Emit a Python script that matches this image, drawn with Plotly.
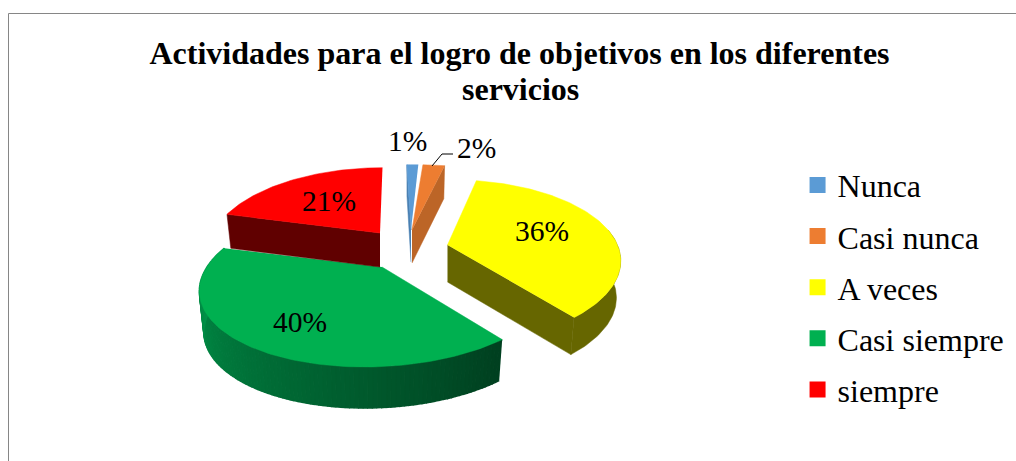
import numpy as np
import plotly.graph_objects as go

categories = ["Nunca", "Casi nunca", "A veces", "Casi siempre", "siempre"]
values = [1, 2, 36, 40, 21]
top_colors = ["#5B9BD5", "#ED7D31", "#FFFF00", "#00B050", "#FF0000"]
side_colors = ["#4A80B2", "#BC6527", "#666600", "#00401F", "#600000"]
title_line1 = "Actividades para el logro de objetivos en los diferentes"
title_line2 = "servicios"

W, H = 1016, 461
FONT = "Liberation Serif"
RY, K = 79.0, 0.21   # vertical radius and perspective strength
TAPER = 0.975        # lower rim is slightly narrower than the upper rim

# Per-slice exploded geometry of the tilted pie (layout, not data)
geom = {
    "Nunca":        dict(cx=411, cy=230, rx=220, q=-5, d=32, faces=("start",)),
    "Casi nunca":   dict(cx=412, cy=230, rx=210, q=0,  d=33, faces=("end",)),
    "A veces":      dict(cx=447.5, cy=245, rx=170, q=3, d=37, faces=("arc", "end")),
    "Casi siempre": dict(cx=382, cy=267, rx=175, q=14, d=41, faces=("gradient",)),
    "siempre":      dict(cx=380, cy=233, rx=167, q=3,  d=34, faces=("start",)),
}
label_pos = {"Nunca": (407, 141), "Casi nunca": (476, 148), "A veces": (542, 231),
             "Casi siempre": (300, 322), "siempre": (329, 201)}


def project(theta, g):
    u, v = np.sin(theta), np.cos(theta)
    s = 1.0 / (1.0 + K * v)
    return g["cx"] + s * (g["rx"] * u + g["q"] * v), g["cy"] - s * RY * v


def poly(fig, xs, ys, color, lw=0.5):
    fig.add_trace(go.Scatter(x=list(xs), y=list(ys), mode="lines", fill="toself",
                             fillcolor=color, line=dict(color=color, width=lw),
                             showlegend=False, hoverinfo="skip"))


fig = go.Figure()
shares = np.array(values, dtype=float) / sum(values)
edges = np.concatenate([[0], np.cumsum(shares)]) * 2 * np.pi

for i, name in enumerate(categories):
    g = geom[name]
    th = np.linspace(edges[i], edges[i + 1], max(4, int(values[i] * 3)))
    ax, ay = project(th, g)
    d = g["d"]
    bx = g["cx"] + (ax - g["cx"]) * TAPER  # lower rim
    for face in g["faces"]:
        if face == "arc":
            m = np.cos(th) < 0.2
            poly(fig, np.r_[ax[m], bx[m][::-1]], np.r_[ay[m], ay[m][::-1] + d], side_colors[i])
        elif face == "start":
            poly(fig, [g["cx"], ax[0], bx[0], g["cx"]],
                 [g["cy"], ay[0], ay[0] + d, g["cy"] + d], side_colors[i])
        elif face == "end":
            poly(fig, [g["cx"], ax[-1], bx[-1], g["cx"]],
                 [g["cy"], ay[-1], ay[-1] + d, g["cy"] + d], side_colors[i])
        elif face == "gradient":
            # shaded front wall, light on the left to dark on the right
            for j in range(len(ax) - 1):
                t = j / (len(ax) - 2)
                col = "rgb(%d,%d,%d)" % (0, 64 + 96 * t, 32 + 48 * t)
                poly(fig, [ax[j], ax[j + 1], bx[j + 1], bx[j]],
                     [ay[j], ay[j + 1], ay[j + 1] + d, ay[j] + d], col, lw=1.5)
    poly(fig, np.r_[g["cx"], ax], np.r_[g["cy"], ay], top_colors[i])

# Legend entries
for i, name in enumerate(categories):
    fig.add_trace(go.Scatter(x=[None], y=[None], mode="markers", name=name, legendgroup=name,
                             marker=dict(symbol="square", size=16, color=top_colors[i])))

# Percentage labels
for i, name in enumerate(categories):
    x, y = label_pos[name]
    fig.add_annotation(x=x, y=y, xref="x", yref="y", text=f"{values[i]}%", showarrow=False,
                       font=dict(family=FONT, size=29.5, color="black"))

# Second title line (the reference's line spacing is tighter than Plotly's)
fig.add_annotation(x=520, y=89, xref="x", yref="y", text="<b>" + title_line2 + "</b>", showarrow=False,
                   font=dict(family=FONT, size=32, color="black"))

shapes = [
    dict(type="path", path="M 8.5 470 L 8.5 13.5 L 1016 13.5", line=dict(color="#868686", width=1)),
    dict(type="path", path="M 432 166 L 442 154 L 453 154", line=dict(color="black", width=1)),
]

fig.update_layout(
    width=W, height=H, autosize=False,
    margin=dict(l=0, r=0, t=0, b=0),
    paper_bgcolor="white", plot_bgcolor="white",
    xaxis=dict(range=[0, W], visible=False, fixedrange=True),
    yaxis=dict(range=[H, 0], visible=False, fixedrange=True),
    shapes=shapes,
    title=dict(text="<b>" + title_line1 + "</b>", x=519.5 / W, xanchor="center", y=1 - 53 / H, yanchor="middle",
               font=dict(family=FONT, size=32, color="black")),
    legend=dict(x=0.785, y=0.377, xanchor="left", yanchor="middle", font=dict(family=FONT, size=32, color="black"),
                tracegroupgap=6.5, itemwidth=30, bgcolor="rgba(0,0,0,0)", traceorder="grouped"),
    showlegend=True,
)
fig.write_html("out.html", config=dict(displayModeBar=False),
               post_script="document.body.style.margin='0';document.body.style.overflow='hidden';")
